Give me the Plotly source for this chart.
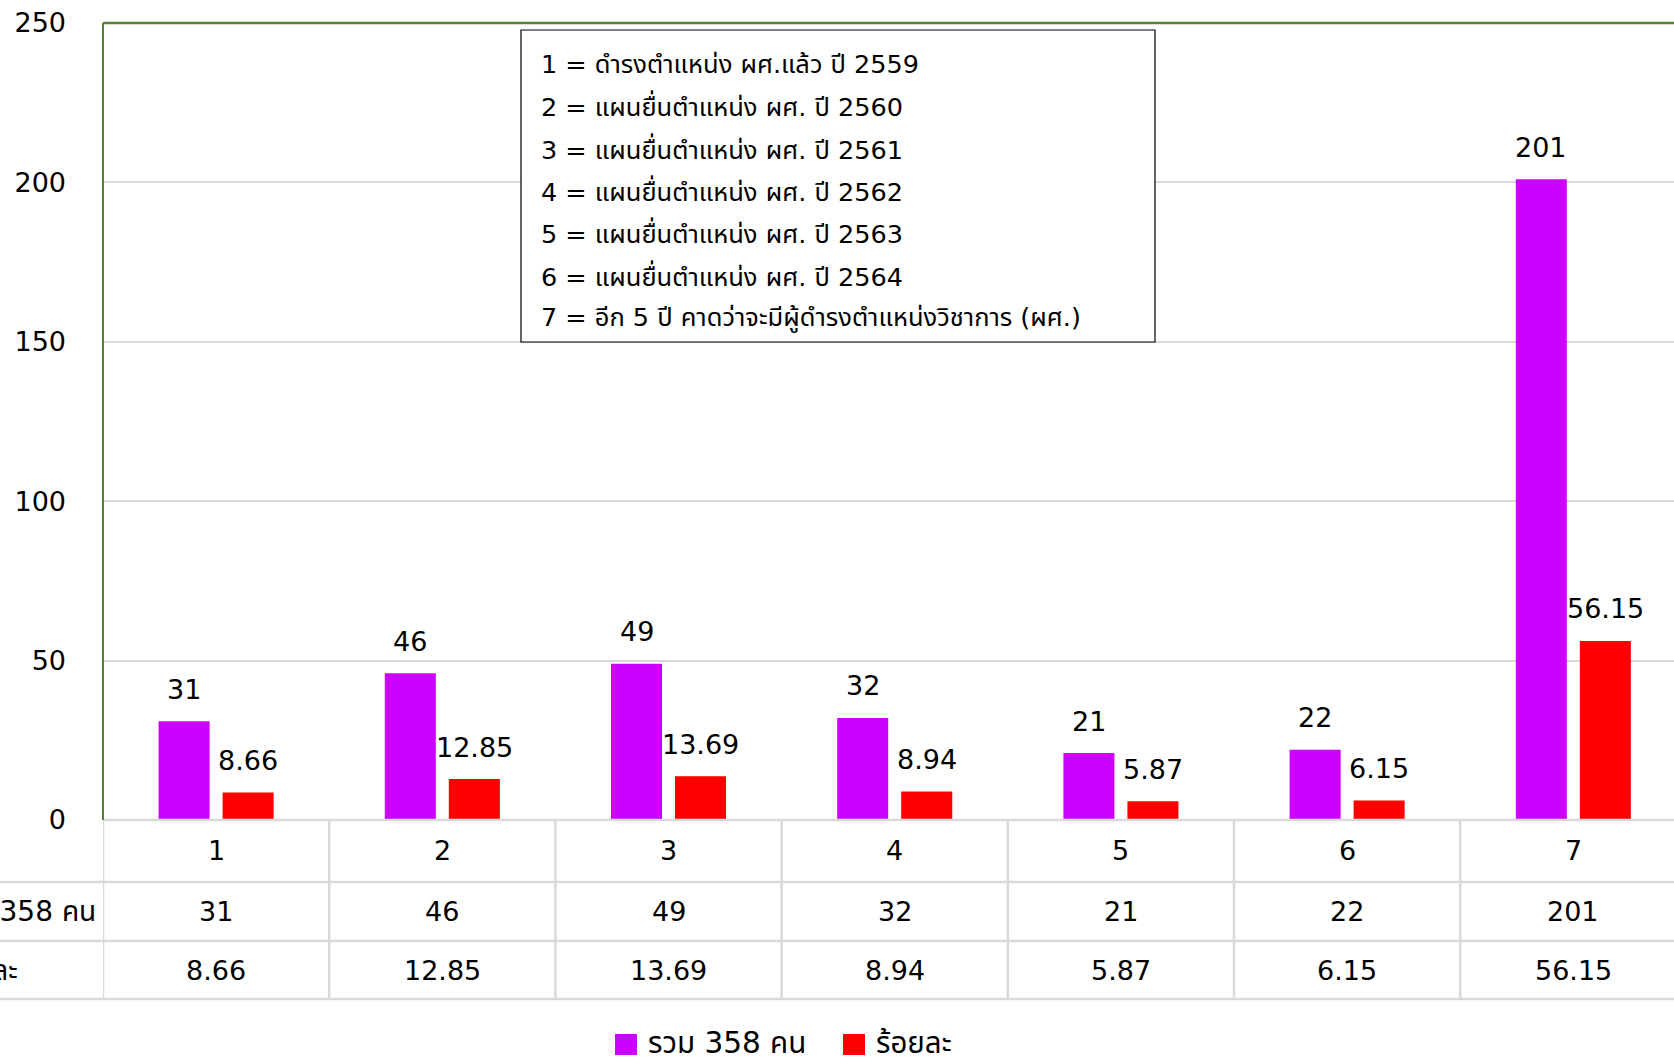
import plotly.graph_objects as go

# ---------------- data ----------------
categories = ["1", "2", "3", "4", "5", "6", "7"]
total_people = [31, 46, 49, 32, 21, 22, 201]          # รวม 358 คน
percent = [8.66, 12.85, 13.69, 8.94, 5.87, 6.15, 56.15]  # ร้อยละ
series_names = ["รวม 358 คน", "ร้อยละ"]
key_lines = [
    "1 = ดำรงตำแหน่ง ผศ.แล้ว ปี 2559",
    "2 = แผนยื่นตำแหน่ง ผศ. ปี 2560",
    "3 = แผนยื่นตำแหน่ง ผศ. ปี 2561",
    "4 = แผนยื่นตำแหน่ง ผศ. ปี 2562",
    "5 = แผนยื่นตำแหน่ง ผศ. ปี 2563",
    "6 = แผนยื่นตำแหน่ง ผศ. ปี 2564",
    "7 = อีก 5 ปี คาดว่าจะมีผู้ดำรงตำแหน่งวิชาการ (ผศ.)",
]
y_ticks = [0, 50, 100, 150, 200, 250]

# ---------------- style / layout ----------------
W, H = 1674, 1064
L, R, T, B = 103, 0, 23, 244
PW, PH = W - L - R, H - T - B
FONT = "Tahoma, 'DejaVu Sans', 'Noto Sans Thai', sans-serif"
PURPLE, RED = "#CC00FF", "#FF0000"
GRID = "#d9d9d9"
GREEN = "#548235"


def px_x(p):
    return (p - L) / PW


def px_y(p):
    return (H - B - p) / PH


fig = go.Figure()
fig.add_trace(go.Bar(x=categories, y=total_people, name=series_names[0],
                     marker=dict(color=PURPLE, line=dict(width=0)), showlegend=False))
fig.add_trace(go.Bar(x=categories, y=percent, name=series_names[1],
                     marker=dict(color=RED, line=dict(width=0)), showlegend=False))

annotations = []
shapes = []

# bar value labels (x given as category index on the category axis)
for i, c in enumerate(categories):
    annotations.append(dict(x=i, y=total_people[i], xref="x", yref="y", text=str(total_people[i]),
                            showarrow=False, xshift=-32, yshift=32, yanchor="middle",
                            font=dict(size=27, color="black", family=FONT)))
    annotations.append(dict(x=i, y=percent[i], xref="x", yref="y", text=f"{percent[i]:.2f}",
                            showarrow=False, xshift=32, yshift=32, yanchor="middle",
                            font=dict(size=27, color="black", family=FONT)))

# data table below the chart
row_y = [851, 911, 970]
for i, c in enumerate(categories):
    for r, txt in enumerate([c, str(total_people[i]), f"{percent[i]:.2f}"]):
        annotations.append(dict(x=i, y=px_y(row_y[r]), xref="x", yref="paper", text=txt,
                                showarrow=False, yanchor="middle", xanchor="center",
                                font=dict(size=27, color="black", family=FONT)))
# row labels (cut off at left edge, as in the reference)
annotations.append(dict(x=px_x(98), y=px_y(911), xref="paper", yref="paper", text=series_names[0],
                        showarrow=False, xanchor="right", yanchor="middle",
                        font=dict(size=28, color="black", family=FONT)))
annotations.append(dict(x=px_x(20), y=px_y(970), xref="paper", yref="paper", text=series_names[1],
                        showarrow=False, xanchor="right", yanchor="middle",
                        font=dict(size=28, color="black", family=FONT)))

# table lines
for yy, x0 in [(820, 103), (882, 0), (941, 0), (999, 0)]:
    shapes.append(dict(type="line", xref="paper", yref="paper", x0=px_x(x0), x1=px_x(W + 5),
                       y0=px_y(yy), y1=px_y(yy), line=dict(color=GRID, width=2.5)))
for k in range(len(categories) + 1):
    shapes.append(dict(type="line", xref="x", yref="paper", x0=k - 0.5, x1=k - 0.5,
                       y0=px_y(820), y1=px_y(999), line=dict(color=GRID, width=2.5)))

# plot border (left & top) green
shapes.append(dict(type="line", xref="paper", yref="paper", x0=0, x1=0, y0=0, y1=1,
                   line=dict(color=GREEN, width=2)))
shapes.append(dict(type="line", xref="paper", yref="paper", x0=0, x1=px_x(W + 5), y0=1, y1=1,
                   line=dict(color=GREEN, width=2.5)))

# key box
shapes.append(dict(type="rect", xref="paper", yref="paper", x0=px_x(521), x1=px_x(1155),
                   y0=px_y(342), y1=px_y(30), line=dict(color="black", width=1.2),
                   fillcolor="white", layer="above"))
for k, line in enumerate(key_lines):
    annotations.append(dict(x=px_x(539), y=px_y(64 + k * 42.3), xref="paper", yref="paper",
                            text=line, showarrow=False, xanchor="left", yanchor="middle",
                            font=dict(size=25.5, color="black", family=FONT)))

# custom legend at bottom
for (x0, col, name) in [(615, PURPLE, series_names[0]), (843, RED, series_names[1])]:
    shapes.append(dict(type="rect", xref="paper", yref="paper", x0=px_x(x0), x1=px_x(x0 + 22),
                       y0=px_y(1055), y1=px_y(1034), fillcolor=col, line=dict(width=0)))
    annotations.append(dict(x=px_x(x0 + 31), y=px_y(1043), xref="paper", yref="paper", text=name,
                            showarrow=False, xanchor="left", yanchor="middle",
                            font=dict(size=29.5, color="black", family=FONT)))

fig.update_layout(
    width=W, height=H,
    margin=dict(l=L, r=R, t=T, b=B, pad=0),
    paper_bgcolor="white", plot_bgcolor="white",
    barmode="group", bargap=0.434, bargroupgap=0.203,
    showlegend=False,
    font=dict(family=FONT, color="black"),
    annotations=annotations,
    shapes=shapes,
    xaxis=dict(type="category", range=[-0.5, 6.445], showgrid=False, zeroline=False,
               showticklabels=False, showline=False, ticks="", fixedrange=True),
    yaxis=dict(range=[0, 250], tickvals=y_ticks, showgrid=True, gridcolor=GRID, gridwidth=2,
               zeroline=False, showline=False, ticks="", ticklabelstandoff=36,
               tickfont=dict(size=27, color="black", family=FONT), fixedrange=True),
)

fig.write_html("out.html", config={"displayModeBar": False},
               post_script="document.body.style.margin='0px';document.body.style.overflow='hidden';")
